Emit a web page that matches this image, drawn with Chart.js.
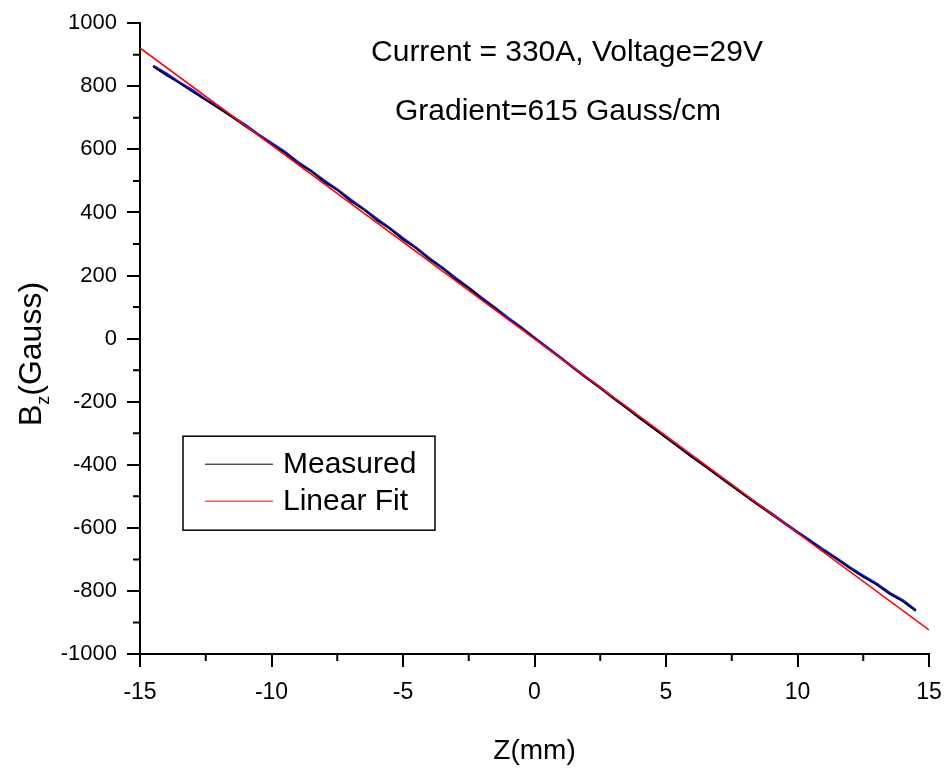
<!DOCTYPE html>
<html>
<head>
<meta charset="utf-8">
<title>Bz vs Z</title>
<script src="https://cdn.jsdelivr.net/npm/chart.js@4.4.1/dist/chart.umd.min.js"></script>
<style>
  html, body { margin: 0; padding: 0; background: #fff; }
  #wrap { width: 946px; height: 771px; }
</style>
</head>
<body>
<div id="wrap"><canvas id="fieldChart" width="946" height="771"></canvas></div>
<script>
// probe position along the axis (mm)
const zPos = [
  -14.5, -14, -13.5, -13, -12.5, -12, -11.5, -11, -10.5, -10,
  -9.5, -9, -8.5, -8, -7.5, -7, -6.5, -6, -5.5, -5,
  -4.5, -4, -3.5, -3, -2.5, -2, -1.5, -1, -0.5, 0,
  0.5, 1, 1.5, 2, 2.5, 3, 3.5, 4, 4.5, 5,
  5.5, 6, 6.5, 7, 7.5, 8, 8.5, 9, 9.5, 10,
  10.5, 11, 11.5, 12, 12.5, 13, 13.5, 14, 14.5
];

// measured Bz (Gauss), black trace
const bMeasured = [
  862, 835, 810, 782, 756, 729, 702, 673, 645, 615,
  590, 555, 531, 496, 471, 436, 410, 375, 348, 313,
  286, 251, 223, 188, 160, 125, 97, 61, 34, 1,
  -32, -63, -95, -127, -158, -190, -221, -253, -284, -315,
  -346, -377, -407, -438, -468, -498, -528, -557, -587, -616,
  -644, -673, -700, -729, -756, -780, -810, -833, -864
];

// second pass of the probe (blue trace)
const bSecond = [
  865, 840, 812, 787, 758, 734, 704, 678, 647, 620,
  592, 560, 532, 501, 473, 441, 411, 380, 350, 318,
  288, 255, 225, 192, 161, 129, 98, 65, 35, 3,
  -29, -61, -93, -125, -155, -188, -218, -251, -281, -312,
  -343, -375, -404, -435, -465, -496, -525, -554, -584, -613,
  -641, -670, -697, -726, -752, -777, -806, -830, -861
];

// linear fit, 615 Gauss/cm
const fitZ = [-15, 15];
const fitB = [921.5, -923.5];

const xTicks = { min: -15, max: 15, step: 5 };
const yTicks = { min: -1000, max: 1000, step: 200 };

const labelFont = 'Liberation Sans, Arial, sans-serif';

function toPoints(xs, ys) {
  return xs.map((x, i) => ({ x: x, y: ys[i] }));
}

// minor ticks halfway between the major ones, plus legend, notes and y title
const extras = {
  id: 'extras',
  afterDraw(chart) {
    const ctx = chart.ctx;
    const xs = chart.scales.x;
    const ys = chart.scales.y;
    ctx.save();
    ctx.strokeStyle = '#000';
    ctx.lineWidth = 2;
    ctx.beginPath();
    for (let i = 0; i < xs.ticks.length - 1; i++) {
      const mid = (xs.ticks[i].value + xs.ticks[i + 1].value) / 2;
      const px = xs.getPixelForValue(mid);
      ctx.moveTo(px, xs.top);
      ctx.lineTo(px, xs.top + 7);
    }
    for (let i = 0; i < ys.ticks.length - 1; i++) {
      const mid = (ys.ticks[i].value + ys.ticks[i + 1].value) / 2;
      const py = ys.getPixelForValue(mid);
      ctx.moveTo(ys.right, py);
      ctx.lineTo(ys.right - 7, py);
    }
    ctx.stroke();

    // legend box
    const area = chart.chartArea;
    const lx = area.left + 43, ly = area.top + 413;
    ctx.lineWidth = 1.5;
    ctx.strokeRect(lx, ly, 252, 94);
    const items = [chart.data.datasets[1], chart.data.datasets[0]];
    ctx.font = '30px ' + labelFont;
    ctx.textBaseline = 'middle';
    ctx.textAlign = 'left';
    items.forEach((ds, i) => {
      const y = ly + 28 + i * 37;
      ctx.strokeStyle = ds.borderColor;
      ctx.lineWidth = 1;
      ctx.beginPath();
      ctx.moveTo(lx + 22, y);
      ctx.lineTo(lx + 90, y);
      ctx.stroke();
      ctx.fillStyle = '#000';
      ctx.fillText(ds.label, lx + 100, y + 1);
    });

    // run conditions
    ctx.textAlign = 'center';
    ctx.fillText('Current = 330A, Voltage=29V', 567, 53);
    ctx.textAlign = 'left';
    ctx.fillText('Gradient=615 Gauss/cm', 395, 112);

    // y title with subscript
    ctx.translate(30, 354);
    ctx.rotate(-Math.PI / 2);
    const bigFont = '32px ' + labelFont;
    const zFont = '18px ' + labelFont;
    ctx.textAlign = 'left';
    ctx.textBaseline = 'alphabetic';
    ctx.font = bigFont;
    const bW = ctx.measureText('B').width;
    const restW = ctx.measureText('(Gauss)').width;
    ctx.font = zFont;
    const zW = ctx.measureText('z').width;
    let cx = -(bW + zW + restW) / 2;
    ctx.font = bigFont;
    ctx.fillText('B', cx, 11);
    cx += bW;
    ctx.font = zFont;
    ctx.fillText('z', cx, 19);
    cx += zW;
    ctx.font = bigFont;
    ctx.fillText('(Gauss)', cx, 11);
    ctx.restore();
  }
};

const axisGrid = {
  drawOnChartArea: false,
  drawTicks: true,
  tickLength: 13,
  tickWidth: 2,
  tickColor: '#000',
  color: '#000',
  lineWidth: 2
};

new Chart(document.getElementById('fieldChart'), {
  type: 'scatter',
  data: {
    datasets: [
      {
        label: 'Linear Fit',
        data: toPoints(fitZ, fitB),
        showLine: true,
        borderColor: '#ff0000',
        borderWidth: 1.5,
        pointRadius: 0,
        order: 0
      },
      {
        label: 'Measured',
        data: toPoints(zPos, bMeasured),
        showLine: true,
        borderColor: '#000000',
        borderWidth: 1.5,
        pointRadius: 0,
        order: 1
      },
      {
        label: 'Second pass',
        data: toPoints(zPos, bSecond),
        showLine: true,
        borderColor: '#1010ff',
        borderWidth: 2.5,
        pointRadius: 0,
        order: 2
      }
    ]
  },
  options: {
    responsive: false,
    animation: false,
    layout: { padding: { top: 21, right: 17, left: 0, bottom: 0 } },
    plugins: {
      legend: { display: false },
      tooltip: { enabled: false }
    },
    scales: {
      x: {
        type: 'linear',
        min: xTicks.min,
        max: xTicks.max,
        grid: axisGrid,
        border: { display: true, color: '#000', width: 2 },
        ticks: {
          stepSize: xTicks.step,
          color: '#000',
          padding: 12,
          maxRotation: 0,
          font: { family: labelFont, size: 23 },
          callback: (v) => String(v)
        },
        title: {
          display: true,
          text: 'Z(mm)',
          color: '#000',
          font: { family: labelFont, size: 28 },
          padding: { top: 0, bottom: 3 }
        },
        afterFit(scale) {
          scale.height = 117;
          scale.paddingLeft = 0;
          scale.paddingRight = 0;
        }
      },
      y: {
        type: 'linear',
        min: yTicks.min,
        max: yTicks.max,
        grid: axisGrid,
        border: { display: true, color: '#000', width: 2 },
        ticks: {
          stepSize: yTicks.step,
          color: '#000',
          padding: 10,
          font: { family: labelFont, size: 22 },
          callback: (v) => String(v)
        },
        afterFit(scale) { scale.width = 140; }
      }
    }
  },
  plugins: [extras]
});
</script>
</body>
</html>
